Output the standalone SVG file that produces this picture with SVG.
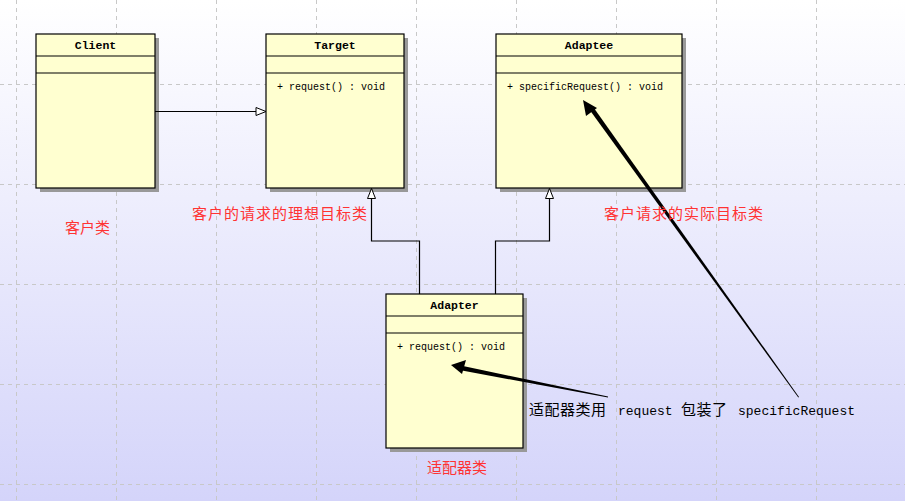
<svg xmlns="http://www.w3.org/2000/svg" width="905" height="501" viewBox="0 0 905 501">
<defs>
<linearGradient id="bg" x1="0" y1="0" x2="0" y2="1">
<stop offset="0" stop-color="#ffffff"/>
<stop offset="1" stop-color="#d4d4fa"/>
</linearGradient>
<marker id="tri" viewBox="0 0 12 10" refX="11" refY="5" markerWidth="12" markerHeight="10" markerUnits="userSpaceOnUse" orient="auto">
<path d="M1,1 L11,5 L1,9 Z" fill="#ffffff" stroke="#000" stroke-width="1"/>
</marker>
<style>
.grid{stroke:#c8c8c8;stroke-width:1;stroke-dasharray:4 4;fill:none}
.box{fill:#ffffd0;stroke:#000;stroke-width:1.2}
.shadow{fill:#999999}
.sep{stroke:#000;stroke-width:1.2}
.title{font-family:"Liberation Mono","DejaVu Sans Mono",monospace;font-weight:bold;font-size:11.5px;text-anchor:middle;fill:#000}
.op{font-family:"Liberation Mono","DejaVu Sans Mono",monospace;font-size:10px;fill:#000}
.conn{stroke:#000;stroke-width:1.2;fill:none}
.red{font-family:"Noto Sans CJK SC","Noto Sans CJK JP",sans-serif;font-size:15px;fill:#ff3333}
.cjk{font-family:"Noto Sans CJK SC",sans-serif;font-size:15px;fill:#000}
.mono{font-family:"Liberation Mono","DejaVu Sans Mono",monospace;font-size:13px;fill:#000}
</style>
</defs>
<rect x="0" y="0" width="905" height="501" fill="url(#bg)"/>
<g id="grid">
<path class="grid" d="M16.5,0V501M116.5,0V501M216.5,0V501M316.5,0V501M416.5,0V501M516.5,0V501M616.5,0V501M716.5,0V501M816.5,0V501"/>
<path class="grid" d="M0,84.5H905M0,184.5H905M0,284.5H905M0,384.5H905M0,484.5H905"/>
</g>
<g id="client">
<rect class="shadow" x="40" y="38" width="119" height="154"/>
<rect class="box" x="36" y="34" width="119" height="154"/>
<line class="sep" x1="36" y1="56" x2="155" y2="56"/>
<line class="sep" x1="36" y1="73" x2="155" y2="73"/>
<text class="title" x="95.5" y="49">Client</text>
</g>
<g id="target">
<rect class="shadow" x="270" y="38" width="138" height="154"/>
<rect class="box" x="266" y="34" width="138" height="154"/>
<line class="sep" x1="266" y1="56" x2="404" y2="56"/>
<line class="sep" x1="266" y1="73" x2="404" y2="73"/>
<text class="title" x="335" y="49">Target</text>
<text class="op" x="277" y="90">+ request() : void</text>
</g>
<g id="adaptee">
<rect class="shadow" x="500" y="38" width="186" height="154"/>
<rect class="box" x="496" y="34" width="186" height="154"/>
<line class="sep" x1="496" y1="56" x2="682" y2="56"/>
<line class="sep" x1="496" y1="73" x2="682" y2="73"/>
<text class="title" x="589" y="49">Adaptee</text>
<text class="op" x="507" y="90">+ specificRequest() : void</text>
</g>
<g id="adapter">
<rect class="shadow" x="390" y="298" width="137" height="154"/>
<rect class="box" x="386" y="294" width="137" height="154"/>
<line class="sep" x1="386" y1="316" x2="523" y2="316"/>
<line class="sep" x1="386" y1="333" x2="523" y2="333"/>
<text class="title" x="454.5" y="309">Adapter</text>
<text class="op" x="397" y="350">+ request() : void</text>
</g>
<g id="connectors">
<path class="conn" d="M155,111.5H266" marker-end="url(#tri)"/>
<path class="conn" d="M419.5,294V241H371.5V188.5" marker-end="url(#tri)"/>
<path class="conn" d="M495.5,294V241H549.5V188.5" marker-end="url(#tri)"/>
<polygon points="463,366 608,396.5 608,397.5 462,370.5" fill="#000"/>
<polygon points="451,365 466,360 462,374" fill="#000"/>
<polygon points="589,109 592.5,106 799,397 798.3,397.5" fill="#000"/>
<polygon points="583,100 597,108 586,116" fill="#000"/>
</g>
<g id="labels">
<text class="red" x="65" y="233">客户类</text>
<text class="red" x="192" y="219" textLength="175">客户的请求的理想目标类</text>
<text class="red" x="604" y="219" textLength="159">客户请求的实际目标类</text>
<text class="red" x="427" y="473">适配器类</text>
<text class="cjk" x="529" y="415" textLength="77">适配器类用</text>
<text class="mono" x="618" y="415">request</text>
<text class="cjk" x="681" y="415" textLength="46">包装了</text>
<text class="mono" x="738" y="415">specificRequest</text>
</g>
</svg>
